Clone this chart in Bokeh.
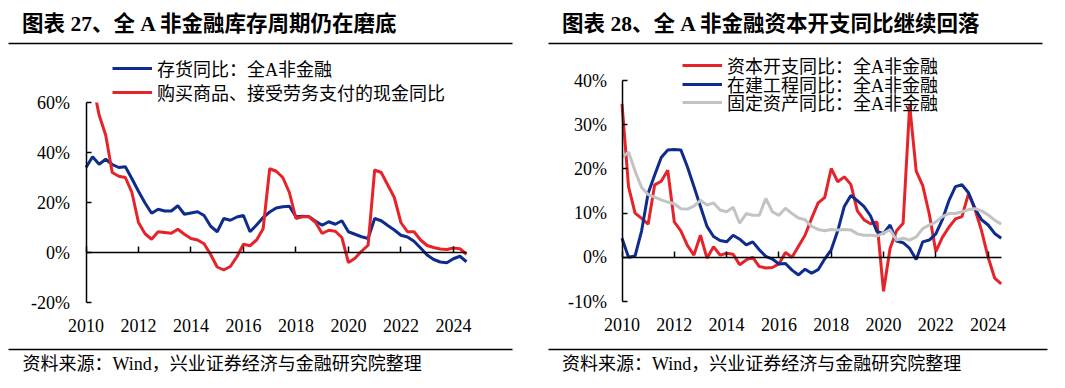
from bokeh.plotting import figure
from bokeh.models import (Range1d, LinearAxis, FixedTicker, PrintfTickFormatter,
                          Legend, LegendItem, ColumnDataSource)
from bokeh.embed import file_html
from bokeh.resources import INLINE
from bokeh.core.properties import value

FONT = "Liberation Serif, Noto Sans CJK SC"

# ---------------- data ----------------
quarters = [2010 + 0.25 * i for i in range(59)]   # 2010Q1 ... 2024Q3
years = [2010, 2012, 2014, 2016, 2018, 2020, 2022, 2024]

title_left = "图表 27、全 A 非金融库存周期仍在磨底"
title_right = "图表 28、全 A 非金融资本开支同比继续回落"
source_text = "资料来源：Wind，兴业证券经济与金融研究院整理"

left_labels = ["存货同比：全A非金融", "购买商品、接受劳务支付的现金同比"]
left_ticks = [-20, 0, 20, 40, 60]
inventory_yoy = [
    34, 38.3, 35.3, 37.3,
    35.2, 34, 34.3, 29.5,
    24.5, 19.8, 15.7, 17.3,
    16.6, 16.6, 18.7, 15.3,
    15.8, 16.3, 14.8, 10.5,
    8.3, 13.6, 12.9, 14.2,
    14.8, 8.3, 11, 14,
    16.2, 17.8, 18.3, 18.5,
    14.3, 14.5, 14.3, 12.5,
    10.9, 12.3, 11.3, 12.7,
    8.3, 7.3, 6.3, 5.6,
    13.6, 12.7, 10.8, 9,
    6.9, 6.2, 4.5, 1.8,
    -1, -2.8, -3.8, -4.1,
    -2.5, -1.5, -3.7,
]
purchase_cash_yoy = [
    85, 68, 55, 47,
    32, 30.5, 30, 24,
    12, 7.5, 5.3, 8.3,
    8, 7.7, 9.3, 7.3,
    5.6, 5, 3.5, -0.8,
    -5.8, -7, -5.6, -1.7,
    3.3, 2.7, 5, 9.5,
    33.5, 32.5, 30, 24,
    13.6, 14.3, 14.3, 12,
    7.6, 8.9, 8.5, 6,
    -4, -2.3, 0.5, 2.9,
    33, 32, 27, 22,
    12, 8.3, 8.3, 5,
    2.8, 2, 1.4, 1.2,
    1.8, 1.5, -0.7,
]

right_labels = ["资本开支同比：全A非金融", "在建工程同比：全A非金融", "固定资产同比：全A非金融"]
right_ticks = [-10, 0, 10, 20, 30, 40]
capex_yoy = [
    34.7, 16, 10, 8.8,
    7.5, 16.4, 17.2, 19.7,
    8, 6, 2.7, 0.5,
    5, -0.2, 2.4, 0.5,
    0.9, 0.7, -1.7, -0.6,
    0, -2.1, -2.4, -2.3,
    -1.5, 1.1, 0, 2.5,
    5, 8.8, 12.3, 13.5,
    20.1, 17.1, 18.2, 16.5,
    10.5, 8.5, 7.6, 8,
    -7.7, 2, 6, 7.7,
    34.4, 19.5, 16.2, 9.8,
    1.3, 4.5, 6.8, 8.7,
    9.2, 14.4, 10.8, 6,
    0, -4.7, -6,
]
cip_yoy = [
    4.3, 0, 0.3, 6,
    14.5, 18.6, 22.6, 24.3,
    24.4, 24.3, 20.5, 16,
    11.5, 7, 4.7, 3.8,
    3.5, 5, 4.1, 2.8,
    3.5, 1.7, 0.2, -0.4,
    -1.5, -1.4, -2.9, -4,
    -2.7, -3.6, -2.8, -0.4,
    1.7, 6, 11.5, 14,
    12.8, 11.5, 9.4, 5.8,
    5.4, 7.3, 3.7, 3.3,
    2, -0.5, 3.5, 3.9,
    5.3, 8.5, 12.8, 16,
    16.4, 14.6, 11, 8.5,
    7.3, 5.4, 4.3,
]
fixed_assets_yoy = [
    22.6, 23.8, 19.5, 15.8,
    14.2, 13.6, 13, 12.5,
    12.1, 11, 10.9, 11.6,
    12.9, 11.8, 12.3, 10.7,
    10.3, 11.3, 7.7, 9.9,
    9.5, 9.5, 13.3, 10.3,
    9.5, 11.1, 9.9, 8.9,
    8.5, 7, 6.3, 6,
    6.3, 6.2, 6.3, 6.2,
    5.3, 5, 5, 4.8,
    5.5, 6.2, 3.9, 4.3,
    3.9, 4.6, 6.5, 7.3,
    8, 9.2, 9.9, 9.9,
    10.3, 10.8, 11, 10.5,
    9.6, 8.4, 7.5,
]

RED = "#E62329"
BLUE = "#0E2C8C"
GRAY = "#C3C3C3"

W, H = 1064, 386


def xr(v0, p0, v1, p1):
    k = (p1 - p0) / (v1 - v0)
    return Range1d(v0 - p0 / k, v0 + (W - p0) / k)


def yr(v_top, p_top, v_bot, p_bot):
    k = (p_bot - p_top) / (v_top - v_bot)
    return Range1d(v_bot - (H - p_bot) / k, v_top + p_top / k)


# page-pixel coordinate system for decorations; named ranges for the two charts
p = figure(width=W, height=H, x_range=Range1d(0, W), y_range=Range1d(H, 0),
           output_backend="svg", toolbar_location=None, min_border=0,
           x_axis_type=None, y_axis_type=None)
p.outline_line_color = None
p.extra_x_ranges = {"lx": xr(2010, 85.5, 2024.5, 466), "rx": xr(2010, 621.5, 2024.5, 1000.7)}
p.extra_y_ranges = {"ly": yr(60, 102, -20, 302), "ry": yr(40, 80, -10, 301)}


def chart(xn, yn, series, colors, labels, ymin, ymax, yticks, ystand, legend_x, legend_rows):
    src = ColumnDataSource(dict(t=quarters, **{f"s{i}": s for i, s in enumerate(series)}))
    rs = [p.line("t", f"s{i}", source=src, line_color=c, line_width=3,
                 x_range_name=xn, y_range_name=yn) for i, c in enumerate(colors)]

    yaxis = LinearAxis(x_range_name=xn, y_range_name=yn, fixed_location=2010, bounds=(ymin, ymax),
                       ticker=FixedTicker(ticks=yticks), formatter=PrintfTickFormatter(format="%d%%"),
                       major_tick_in=5, major_tick_out=0, minor_tick_line_color=None,
                       axis_line_color="black", axis_line_width=1.5, major_tick_line_width=1.5,
                       major_label_text_font=FONT, major_label_text_font_size="18px",
                       major_label_text_color="black", major_label_standoff=ystand)
    p.add_layout(yaxis, "left")

    xlab = LinearAxis(x_range_name=xn, y_range_name=yn, fixed_location=ymin,
                      ticker=FixedTicker(ticks=years), axis_line_color=None,
                      major_tick_line_color=None, minor_tick_line_color=None,
                      major_label_text_font=FONT, major_label_text_font_size="18px",
                      major_label_text_color="black", major_label_standoff=10)
    p.add_layout(xlab, "below")

    zero = LinearAxis(x_range_name=xn, y_range_name=yn, fixed_location=0, bounds=(2010, 2024.5),
                      ticker=FixedTicker(ticks=years),
                      major_tick_in=0, major_tick_out=6, minor_tick_line_color=None,
                      axis_line_color="black", axis_line_width=1.5, major_tick_line_width=1.5,
                      major_label_overrides={y: "" for y in years}, major_label_standoff=0,
                      major_label_text_font_size="1px")
    p.add_layout(zero, "above")

    legends = []
    for l, r, yc in zip(labels, rs, legend_rows):
        legends.append(Legend(items=[LegendItem(label=l, renderers=[r])],
                              location=(legend_x, H - (yc + 13)), orientation="vertical",
                              background_fill_alpha=0, border_line_color=None, padding=0, margin=0,
                              glyph_width=40, glyph_height=18, label_height=18,
                              label_standoff=5, label_text_font=FONT, label_text_font_size="18px",
                              label_text_color="black"))
    return legends


lgs1 = chart("lx", "ly", [inventory_yoy, purchase_cash_yoy], [BLUE, RED], left_labels,
             -20, 60, left_ticks, 16, 112, [68, 92])
lgs2 = chart("rx", "ry", [capex_yoy, cip_yoy, fixed_assets_yoy], [RED, BLUE, GRAY], right_labels,
             -10, 40, right_ticks, 15, 682, [65, 83.5, 102])

# the left chart's value axis stops at 60%: hide what lies above it
p.quad(left=[76], right=[475], top=[0], bottom=[102], fill_color="white", line_color=None)

for lg in lgs1 + lgs2:
    p.add_layout(lg)

# titles, rules and source notes
p.text(x=[21.5, 561.5], y=[23, 23], text=[title_left, title_right], text_font=value(FONT),
       text_font_size="21.5px", text_font_style="bold", text_baseline="middle",
       text_align="left", text_color="black")
p.segment(x0=[8, 548], y0=[43, 43], x1=[512, 1042], y1=[43, 43], line_color="black", line_width=1.5)
p.segment(x0=[8, 548], y0=[349, 349], x1=[512, 1047], y1=[349, 349], line_color="black", line_width=1.5)
p.text(x=[22, 561.5], y=[363, 363], text=[source_text, source_text], text_font=value(FONT),
       text_font_size="18px", text_baseline="middle", text_align="left", text_color="black")

open("out.html", "w").write(file_html(p, INLINE))
